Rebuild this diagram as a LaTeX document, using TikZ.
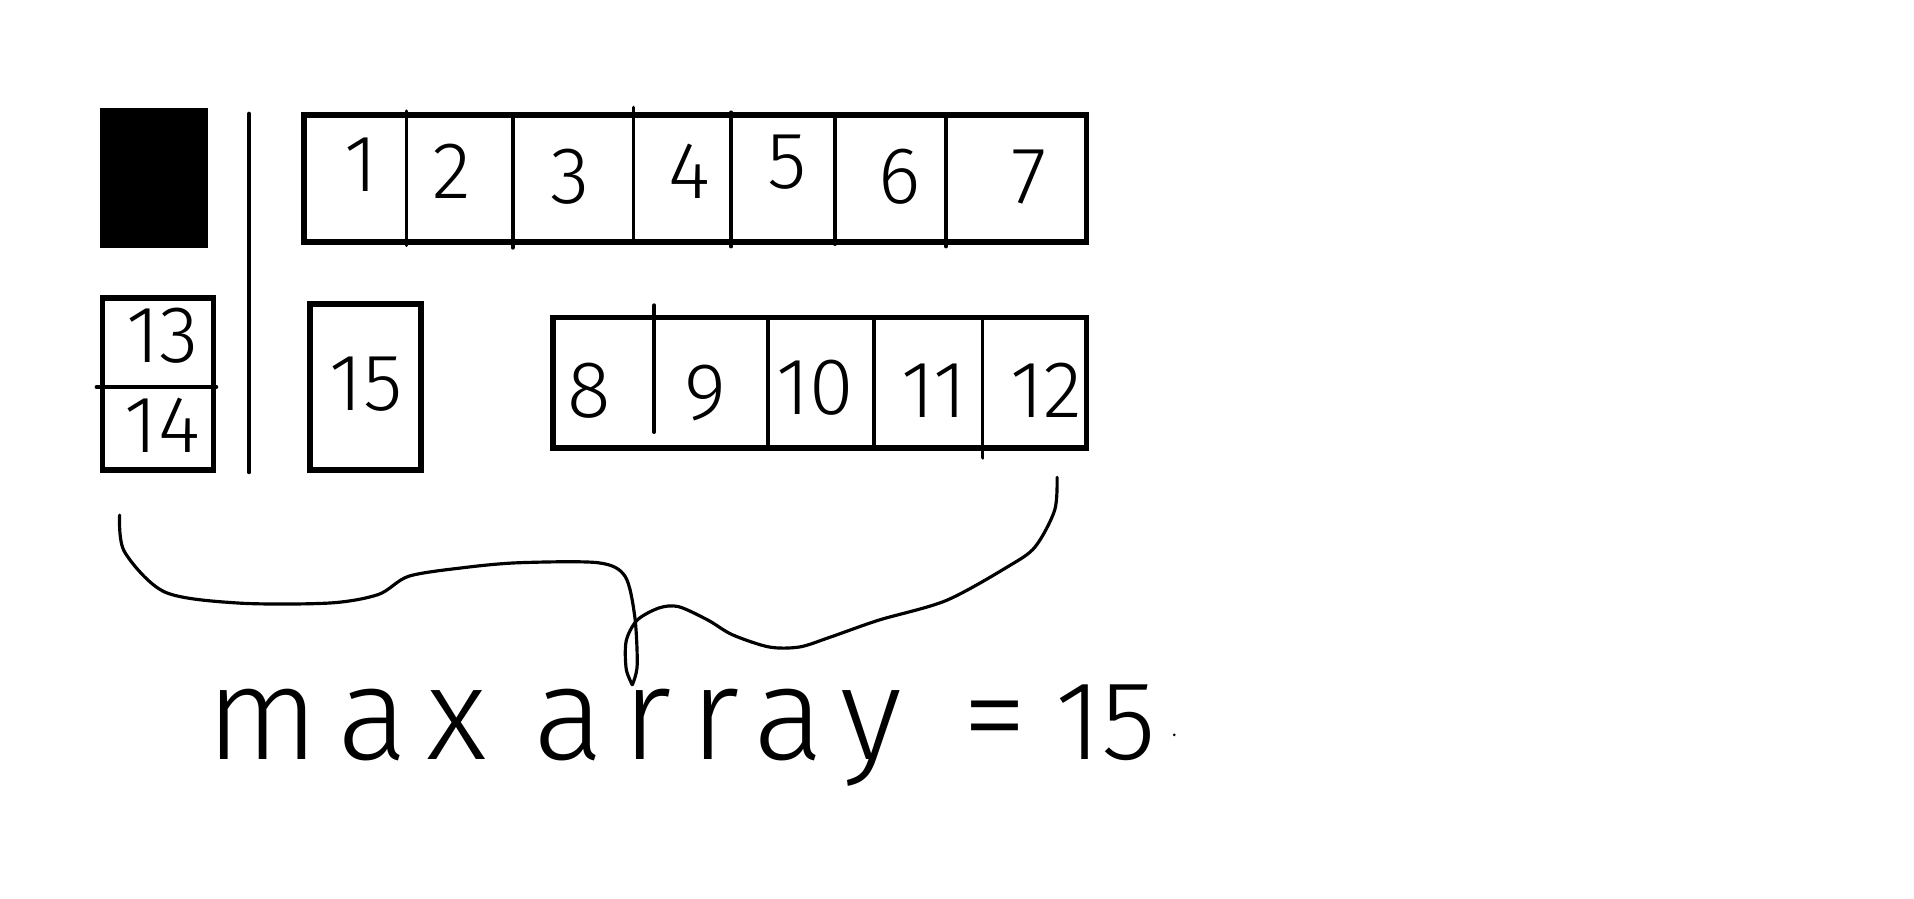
\documentclass[tikz,border=0pt]{standalone}
\usepackage{fontspec}
\newfontfamily\handfont{Fira Sans Light}
\begin{document}
\begin{tikzpicture}[x=0.5pt,y=-0.5pt]
	\tikzstyle{frame}=[draw,line width=2.3pt,inner sep=0pt]
	\tikzstyle{digit}=[font=\handfont\fontsize{33}{33}\selectfont,inner sep=0pt]
	\tikzstyle{words}=[font=\handfont\addfontfeature{LetterSpace=14}\fontsize{54}{54}\selectfont,inner sep=0pt,anchor=base]
	\tikzstyle{stroke}=[line width=1.3pt,line cap=round,line join=round]
	\tikzstyle{divider}=[line width=1.5pt,line cap=round]

	\useasboundingbox (0,0) rectangle (1568,736);

	% left column
	\node (blank) at (126,146) [frame,fill=black,minimum width=42pt,minimum height=55pt] {};
	\node (pair) at (129.5,314.5) [frame,minimum width=45.5pt,minimum height=70.5pt] {};
	\draw [divider] (79,317) -- (pair.east |- 0,317);
	\node (n13) at (133,275) [digit] {13};
	\node (n14) at (133,348) [digit] {14};

	\draw [divider] (204,93) -- (204,387);

	% single box
	\node (single) at (299.5,317) [frame,minimum width=45.5pt,minimum height=68pt] {};
	\node (n15) at (300,315) [digit] {15};

	% top row
	\node (toprow) at (569.5,146) [frame,minimum width=320.5pt,minimum height=52pt] {};
	\foreach \x/\a/\b in {333/91/201, 420/94/203, 519/88/198, 599/92/202, 684/97/200, 775/94/202}
		\draw [divider] (\x,\a) -- (\x,\b);
	\foreach \x/\y/\t in {296/135/1, 370/140/2, 467/145/3, 565/140/4, 645/133/5, 737/145/6, 843/145/7}
		\node (t\t) at (\x,\y) [digit] {\t};

	% bottom row
	\node (botrow) at (671.5,313.5) [frame,minimum width=218.5pt,minimum height=53.5pt] {};
	\foreach \x/\a/\b in {536/250/354, 629/261/366, 716/261/366, 805/261/375}
		\draw [divider] (\x,\a) -- (\x,\b);
	\foreach \x/\y/\t in {483/320/8, 578/322/9, 668/318/10, 765/320/11, 857/320/12}
		\node (b\t) at (\x,\y) [digit] {\t};

	% brace
	\coordinate (braceleft) at (98,422);
	\coordinate (braceright) at (866,391);
	\coordinate (bracetip) at (518,561);
	\draw [stroke] plot[smooth,tension=0.5] coordinates {(braceleft) (102,452) (135,485) (195,494) (270,494) (310,487) (335,472) (380,465) (425,461) (490,461) (512,472) (520,505) (522,545) (bracetip)};
	\draw [stroke] plot[smooth,tension=0.5] coordinates {(braceright) (864,418) (848,448) (826,464) (775,492) (720,508) (680,522) (655,530) (630,530) (600,520) (580,508) (556,497) (540,498) (522,508) (513,525) (513,548) (bracetip)};

	% result
	\node (max) at (284,622) [words] {max};
	\node (array) at (588,622) [words] {array};
	\node (eq) at (815,622) [words] {=};
	\node (val) at (906,622) [digit,anchor=base,font=\handfont\fontsize{46}{46}\selectfont] {15};
	\fill (962,602) circle (0.6pt);
\end{tikzpicture}
\end{document}
